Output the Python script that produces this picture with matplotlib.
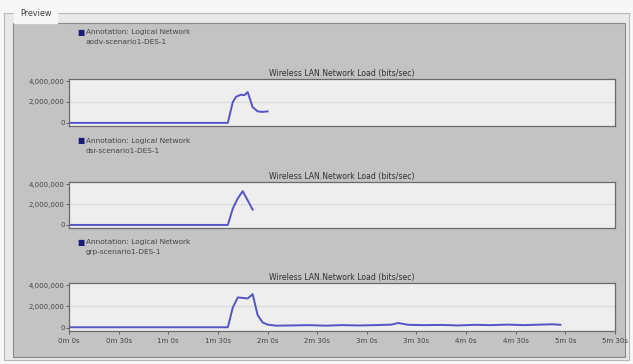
import matplotlib
matplotlib.use("Agg")
import matplotlib.pyplot as plt
from matplotlib.patches import Rectangle

# data (time in seconds, load in bits/sec)
aodv_t = [0, 96, 99, 101, 104, 106, 108, 111, 114, 117, 120]
aodv_v = [0, 0, 2.0e6, 2.5e6, 2.7e6, 2.65e6, 2.95e6, 1.5e6, 1.1e6, 1.05e6, 1.1e6]

dsr_t = [0, 96, 99, 102, 105, 108, 111]
dsr_v = [0, 0, 1.6e6, 2.6e6, 3.3e6, 2.4e6, 1.5e6]

grp_t = [0, 96, 99, 102, 105, 108, 111, 114, 117, 120, 125, 135, 145, 155, 165,
         175, 185, 195, 199, 205, 215, 225, 235, 245, 255, 265, 275, 285, 292, 297]
grp_v = [0.05e6, 0.05e6, 1.9e6, 2.85e6, 2.8e6, 2.75e6, 3.15e6, 1.2e6, 0.5e6, 0.3e6,
         0.2e6, 0.22e6, 0.25e6, 0.2e6, 0.25e6, 0.22e6, 0.25e6, 0.3e6, 0.45e6, 0.28e6,
         0.25e6, 0.27e6, 0.22e6, 0.28e6, 0.25e6, 0.3e6, 0.25e6, 0.3e6, 0.33e6, 0.28e6]

series = [(aodv_t, aodv_v, "aodv-scenario1-DES-1"),
          (dsr_t, dsr_v, "dsr-scenario1-DES-1"),
          (grp_t, grp_v, "grp-scenario1-DES-1")]

yticks = [0, 2000000, 4000000]
ytick_labels = ["0", "2,000,000", "4,000,000"]
xticks = [0, 30, 60, 90, 120, 150, 180, 210, 240, 270, 300, 330]
xtick_labels = ["0m 0s", "0m 30s", "1m 0s", "1m 30s", "2m 0s", "2m 30s",
                "3m 0s", "3m 30s", "4m 0s", "4m 30s", "5m 0s", "5m 30s"]

title = "Wireless LAN.Network Load (bits/sec)"

W, H = 633, 364
fig = plt.figure(figsize=(W / 100, H / 100), dpi=100)
fig.patch.set_facecolor("#f7f7f7")


def px(x, y):
    return x / W, 1 - y / H


# groupbox + gray panel (behind the axes)
fig.patches.append(Rectangle(px(4, 360), 625 / W, 347 / H, transform=fig.transFigure,
                             facecolor="#e9e9e9", edgecolor="#b8b8b8", lw=0.8, zorder=-2))
fig.patches.append(Rectangle(px(13, 357), 612 / W, 334 / H, transform=fig.transFigure,
                             facecolor="#c3c3c3", edgecolor="#8a8a8a", lw=0.8, zorder=-1))
fig.text(*px(20, 13), "Preview", fontsize=5.8, color="#404040", va="center",
         ha="left", backgroundcolor="#f7f7f7")

txt = "#454545"
line_col = "#5454c6"

# box top/bottom in pixels for each panel
boxes = [(79, 126), (182, 228), (283, 331)]
legend_y = [32, 141, 242]

for i, ((t, v, name), (top, bot), ly) in enumerate(zip(series, boxes, legend_y)):
    l, b = px(69, bot)
    ax = fig.add_axes([l, b, 546 / W, (bot - top) / H])
    ax.set_facecolor("#eeeeee")
    ax.plot(t, v, color=line_col, lw=1.4, solid_joinstyle="round")
    ax.set_xlim(0, 330)
    ax.set_ylim(-0.3e6, 4.2e6)
    ax.set_yticks(yticks)
    ax.set_yticklabels(ytick_labels)
    ax.axhline(2e6, color="#dadada", lw=0.8, zorder=0)
    for s in ax.spines.values():
        s.set_color("#6a6a6a")
        s.set_linewidth(0.9)
    ax.tick_params(axis="y", labelsize=5.0, labelcolor=txt, length=2,
                   width=0.6, color="#555555", pad=1)
    if i == 2:
        ax.set_xticks(xticks)
        ax.set_xticklabels(xtick_labels)
        ax.tick_params(axis="x", labelsize=5.0, labelcolor=txt, length=2,
                       width=0.6, color="#555555", pad=3)
    else:
        ax.set_xticks([])
    ax.set_title(title, fontsize=5.6, color="#303030", pad=2)

    # legend entry
    fig.text(*px(81, ly), "\u25a0", fontsize=5.5, color="#1c1c78", va="center", ha="center")
    fig.text(*px(86, ly), "Annotation: Logical Network", fontsize=5.3, color=txt,
             va="center", ha="left")
    fig.text(*px(86, ly + 10), name, fontsize=5.3, color=txt, va="center", ha="left")

fig.savefig("out.png", dpi=100, facecolor=fig.get_facecolor())
